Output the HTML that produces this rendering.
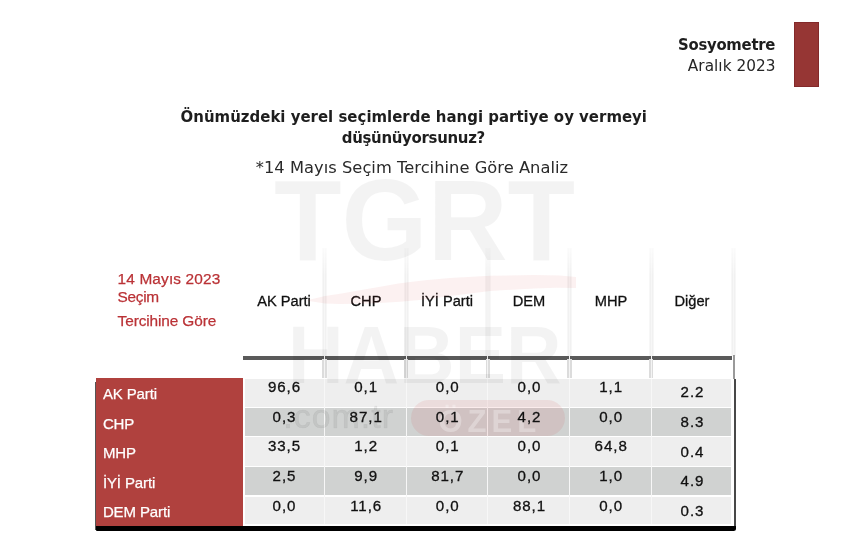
<!DOCTYPE html>
<html lang="tr">
<head>
<meta charset="utf-8">
<title>Sosyometre Aralık 2023</title>
<style>
html,body{margin:0;padding:0;background:#fff;}
body{width:850px;height:550px;position:relative;overflow:hidden;font-family:"Liberation Sans",sans-serif;color:#1a1a1a;}
.t{position:absolute;white-space:nowrap;line-height:1;margin:0;padding:0;}
.c{transform:translateX(-50%);}
.r{transform:translateX(-100%);}
.cg{font-family:"DejaVu Sans Condensed","Liberation Sans",sans-serif;color:#1e1e1e;}
.cgr{font-family:"DejaVu Sans","Liberation Sans",sans-serif;}
/* watermark */
.wm{position:absolute;white-space:nowrap;line-height:1;font-weight:bold;color:rgba(0,0,0,0.047);transform-origin:0 0;}
/* table */
.row{position:absolute;left:244.6px;width:486.8px;}
.lt{background:#eeeeee;}
.dk{background:#d0d2d1;}
.vsep{position:absolute;width:1.2px;background:#f7f7f7;top:378.5px;height:145.5px;}
.hsep{position:absolute;width:5.4px;top:248px;height:108px;filter:blur(0.5px);-webkit-mask-image:linear-gradient(180deg,rgba(0,0,0,0.3),#000 25%);mask-image:linear-gradient(180deg,rgba(0,0,0,0.3),#000 25%);background:linear-gradient(90deg,rgba(0,0,0,0.02),rgba(0,0,0,0.055) 30%,rgba(0,0,0,0.03) 50%,rgba(0,0,0,0.055) 70%,rgba(0,0,0,0.02));}
.msep{position:absolute;width:4.6px;top:359.2px;height:18.8px;background:#dcdcdc;}
.msep i{position:absolute;left:1.8px;top:-4px;width:1px;height:22.8px;background:#f4f4f4;}
.hd{font-size:15.5px;color:#111;-webkit-text-stroke:0.3px #111;transform:translateX(-50%) scaleX(0.945);}
.v{font-size:15.1px;color:#111;letter-spacing:0.95px;padding-left:0.95px;-webkit-text-stroke:0.3px #111;}
.lab{font-size:15px;color:#fff;left:102.9px;letter-spacing:-0.12px;-webkit-text-stroke:0.25px #fff;}
.red{color:#ba3236;font-size:15.4px;left:117.6px;-webkit-text-stroke:0.25px #ba3236;}
</style>
</head>
<body>

<!-- top right -->
<div style="position:absolute;left:793.7px;top:22px;width:25.2px;height:64.5px;background:#963634;box-sizing:border-box;border:1px solid #83292a;"></div>
<div class="t cg" id="brand" style="left:678px;top:36.5px;font-size:16.5px;font-weight:bold;letter-spacing:-0.25px;">Sosyometre</div>
<div class="t cgr" id="date" style="left:687.8px;top:59.2px;font-size:15.3px;color:#262626;letter-spacing:0.05px;">Aralık 2023</div>

<!-- title -->
<div class="t cg" id="t1" style="left:180.6px;top:109.1px;font-size:16.6px;font-weight:bold;letter-spacing:0.02px;">Önümüzdeki yerel seçimlerde hangi partiye oy vermeyi</div>
<div class="t cg" id="t2" style="left:341.8px;top:130.3px;font-size:16.6px;font-weight:bold;letter-spacing:-0.3px;">düşünüyorsunuz?</div>
<div class="t cgr" id="t3" style="left:255.8px;top:159.5px;font-size:16.3px;color:#2a2a2a;letter-spacing:0.03px;">*14 Mayıs Seçim Tercihine Göre Analiz</div>

<!-- header left red text -->
<div class="t red" id="h1" style="top:270.6px;letter-spacing:0.14px;">14 Mayıs 2023</div>
<div class="t red" id="h2" style="top:289px;letter-spacing:-0.32px;">Seçim</div>
<div class="t red" id="h3" style="top:312.7px;letter-spacing:-0.11px;">Tercihine Göre</div>

<!-- column headers -->
<div class="t c hd" id="c1" style="left:283.5px;top:292.5px;">AK Parti</div>
<div class="t c hd" id="c2" style="left:365.5px;top:292.5px;">CHP</div>
<div class="t c hd" id="c3" style="left:447px;top:292.5px;">İYİ Parti</div>
<div class="t c hd" id="c4" style="left:528.5px;top:292.5px;">DEM</div>
<div class="t c hd" id="c5" style="left:610.5px;top:292.5px;">MHP</div>
<div class="t c hd" id="c6" style="left:692px;top:292.5px;">Diğer</div>

<!-- header separators (faint) -->
<div class="hsep" style="left:321.9px;"></div>
<div class="hsep" style="left:403.5px;"></div>
<div class="hsep" style="left:485.2px;"></div>
<div class="hsep" style="left:566.8px;"></div>
<div class="hsep" style="left:648.5px;"></div>
<div class="hsep" style="left:730.5px;"></div>

<!-- header rule -->
<div id="rule" style="position:absolute;left:242.8px;top:355.8px;width:489px;height:3.8px;background:#5a5a5a;filter:blur(0.45px);"></div>
<div class="msep" style="left:322.3px;"><i></i></div>
<div class="msep" style="left:403.9px;"><i></i></div>
<div class="msep" style="left:485.6px;"><i></i></div>
<div class="msep" style="left:567.2px;"><i></i></div>
<div class="msep" style="left:648.9px;"><i></i></div>
<div style="position:absolute;left:733.4px;top:354.8px;width:1.6px;height:24px;background:#9a9a9a;filter:blur(0.3px);"></div>

<!-- table body -->
<div id="shL" style="position:absolute;left:94.8px;top:381.5px;width:2px;height:148px;background:#555;filter:blur(0.3px);"></div>
<div id="shR" style="position:absolute;left:733.5px;top:378.8px;width:2px;height:150px;background:#484848;filter:blur(0.45px);"></div>
<div id="shB" style="position:absolute;left:95.8px;top:526px;width:640px;height:4.8px;background:#000;border-radius:0 0 2.5px 1px;filter:blur(0.7px);"></div>
<div id="tbl" style="position:absolute;left:96.2px;top:378.2px;width:636.9px;height:147.3px;background:#fff;"></div>
<div id="redblk" style="position:absolute;left:96.2px;top:378px;width:146.4px;height:147.5px;background:#b0413e;"></div>
<div class="row lt" style="top:378.7px;height:28.4px;"></div>
<div class="row dk" style="top:408.4px;height:27.3px;"></div>
<div class="row lt" style="top:437.2px;height:28.5px;"></div>
<div class="row dk" style="top:467.3px;height:27.6px;"></div>
<div class="row lt" style="top:496.9px;height:26.9px;"></div>
<div class="vsep" style="left:324.0px;"></div>
<div class="vsep" style="left:405.6px;"></div>
<div class="vsep" style="left:487.3px;"></div>
<div class="vsep" style="left:568.9px;"></div>
<div class="vsep" style="left:650.6px;"></div>

<!-- watermark (overlays table) -->
<div class="wm" id="wm1" style="left:273.6px;top:162.8px;font-size:115px;transform:scaleX(0.962);">TGRT</div>
<div class="wm" id="wm2" style="left:288px;top:313.5px;font-size:82px;transform:scaleX(0.938);">HABER</div>
<div class="wm" id="wm3" style="left:283.2px;top:398.8px;font-size:34px;font-weight:normal;letter-spacing:1px;color:rgba(0,0,0,0.06);-webkit-text-stroke:0.7px rgba(0,0,0,0.05);">.com.tr</div>
<div id="pill" style="position:absolute;left:410.8px;top:400.2px;width:154.4px;height:35.4px;border-radius:18px;background:rgba(214,40,40,0.085);"></div>
<div class="wm" id="wm4" style="left:438.5px;top:406.2px;font-size:31px;letter-spacing:5px;color:rgba(255,255,255,0.3);">ÖZEL</div>
<svg style="position:absolute;left:0;top:0" width="850" height="550" viewBox="0 0 850 550">
  <path d="M306 300.5 L325 296 L340 293.8 L370 288.4 L400 283.2 L425 280.2 L450 278 L490 275.8 L534 275 L560 275.6 L576 277 L576 288 L556 287.8 L534 288.4 L490 291 L450 296 L425 299.4 L400 301.8 L370 303.4 L340 304 L325 303.4 Z" fill="rgba(214,40,40,0.065)"/>
</svg>

<!-- row labels -->
<div class="t lab" id="l1" style="top:386.3px;">AK Parti</div>
<div class="t lab" id="l2" style="top:415.7px;">CHP</div>
<div class="t lab" id="l3" style="top:445.1px;">MHP</div>
<div class="t lab" id="l4" style="top:474.6px;">İYİ Parti</div>
<div class="t lab" id="l5" style="top:504px;">DEM Parti</div>

<!-- values -->
<div class="t c v" id="v00" style="left:284px;top:379.2px;">96,6</div>
<div class="t c v" id="v01" style="left:365.7px;top:379.2px;">0,1</div>
<div class="t c v" id="v02" style="left:447.3px;top:379.2px;">0,0</div>
<div class="t c v" id="v03" style="left:529px;top:379.2px;">0,0</div>
<div class="t c v" id="v04" style="left:610.7px;top:379.2px;">1,1</div>
<div class="t c v" id="v05" style="left:692px;top:384.4px;">2.2</div>
<div class="t c v" id="v10" style="left:284px;top:408.8px;">0,3</div>
<div class="t c v" id="v11" style="left:365.7px;top:408.8px;">87,1</div>
<div class="t c v" id="v12" style="left:447.3px;top:408.8px;">0,1</div>
<div class="t c v" id="v13" style="left:529px;top:408.8px;">4,2</div>
<div class="t c v" id="v14" style="left:610.7px;top:408.8px;">0,0</div>
<div class="t c v" id="v15" style="left:692px;top:414.0px;">8.3</div>
<div class="t c v" id="v20" style="left:284px;top:438.4px;">33,5</div>
<div class="t c v" id="v21" style="left:365.7px;top:438.4px;">1,2</div>
<div class="t c v" id="v22" style="left:447.3px;top:438.4px;">0,1</div>
<div class="t c v" id="v23" style="left:529px;top:438.4px;">0,0</div>
<div class="t c v" id="v24" style="left:610.7px;top:438.4px;">64,8</div>
<div class="t c v" id="v25" style="left:692px;top:443.6px;">0.4</div>
<div class="t c v" id="v30" style="left:284px;top:468.0px;">2,5</div>
<div class="t c v" id="v31" style="left:365.7px;top:468.0px;">9,9</div>
<div class="t c v" id="v32" style="left:447.3px;top:468.0px;">81,7</div>
<div class="t c v" id="v33" style="left:529px;top:468.0px;">0,0</div>
<div class="t c v" id="v34" style="left:610.7px;top:468.0px;">1,0</div>
<div class="t c v" id="v35" style="left:692px;top:473.2px;">4.9</div>
<div class="t c v" id="v40" style="left:284px;top:497.6px;">0,0</div>
<div class="t c v" id="v41" style="left:365.7px;top:497.6px;">11,6</div>
<div class="t c v" id="v42" style="left:447.3px;top:497.6px;">0,0</div>
<div class="t c v" id="v43" style="left:529px;top:497.6px;">88,1</div>
<div class="t c v" id="v44" style="left:610.7px;top:497.6px;">0,0</div>
<div class="t c v" id="v45" style="left:692px;top:502.8px;">0.3</div>
<!-- /values -->
</body>
</html>
